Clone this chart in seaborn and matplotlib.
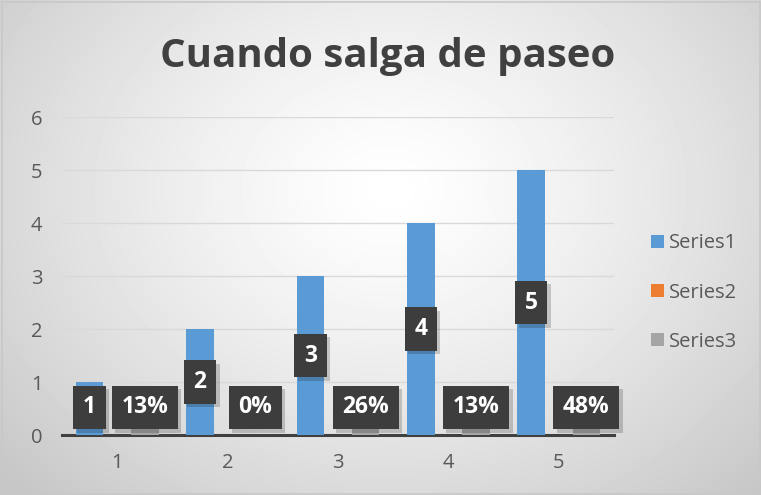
import numpy as np
import pandas as pd
import matplotlib
matplotlib.use("Agg")
import matplotlib.pyplot as plt
import matplotlib.patheffects as pe
from matplotlib.patches import Patch
import seaborn as sns

categories = ["1", "2", "3", "4", "5"]
series1 = [1, 2, 3, 4, 5]
series2 = [0, 0, 0, 0, 0]
series3 = [0.13, 0.0, 0.26, 0.13, 0.48]
series3_labels = ["13%", "0%", "26%", "13%", "48%"]
series_names = ["Series1", "Series2", "Series3"]
colors = ["#5B9BD5", "#ED7D31", "#A5A5A5"]

df = pd.DataFrame({
    "cat": categories * 3,
    "series": [n for n in series_names for _ in categories],
    "value": series1 + series2 + series3,
})

sns.set_theme(style="white")
plt.rcParams["font.family"] = ["Open Sans", "DejaVu Sans"]

fig = plt.figure(figsize=(7.61, 4.95), dpi=100)

# background radial gradient
bg = fig.add_axes([0, 0, 1, 1], zorder=-10)
yy, xx = np.mgrid[0:495, 0:761]
r = np.sqrt(((xx - 390) / 520.0) ** 2 + ((yy - 190) / 420.0) ** 2)
val = np.clip(1.0 - 0.22 * r ** 1.3, 0.78, 1.0)
bg.imshow(val, cmap="gray", vmin=0, vmax=1, aspect="auto", interpolation="bilinear")
bg.axis("off")
bg.add_patch(plt.Rectangle((1, 1), 758, 492, fill=False, ec="#c8c8c8", lw=1.2))

ax = fig.add_axes([0.0815, 0.1212, 0.7254, 0.6424])
ax.set_facecolor("none")
sns.barplot(data=df, x="cat", y="value", hue="series", palette=colors,
            width=0.75, ax=ax, legend=False, saturation=1, zorder=3,
            linewidth=0, edgecolor="none")

ax.set_xlim(-0.5, 4.5)
ax.set_ylim(0, 6)
ax.set_yticks(range(0, 7))
ax.yaxis.grid(True, color="#d9d9d9", lw=1)
ax.set_axisbelow(True)
for s in ["top", "right", "left"]:
    ax.spines[s].set_visible(False)
ax.spines["bottom"].set_color("#404040")
ax.spines["bottom"].set_linewidth(2.2)
ax.set_xlabel("")
ax.set_ylabel("")
ax.tick_params(axis="y", length=0, labelsize=14.5, labelcolor="#595959", pad=14)
ax.tick_params(axis="x", which="major", length=0, labelsize=14.5, labelcolor="#595959", pad=13)
ax.set_xticks(np.arange(-0.5, 5, 1), minor=True)
ax.tick_params(axis="x", which="minor", length=8, width=2.2, color="#404040", direction="out")

def label(x, y, s):
    t = ax.text(x, y, s, ha="center", va="center", color="white", fontsize=16.5,
                fontweight="bold", zorder=6,
                bbox=dict(boxstyle="square,pad=0.42", fc="#3d3d3d", ec="none"))
    t.get_bbox_patch().set_path_effects([
        pe.SimplePatchShadow(offset=(2.5, -2.5), shadow_rgbFace="#000000", alpha=0.18),
        pe.Normal()])

c1 = ax.containers[0]
c3 = ax.containers[2]
for bar, v in zip(c1, series1):
    label(bar.get_x() + bar.get_width() / 2, max(v / 2, 0.52), str(v))
for bar, v, s in zip(c3, series3, series3_labels):
    label(bar.get_x() + bar.get_width() / 2, max(v / 2, 0.52), s)

handles = [Patch(facecolor=c, edgecolor="none") for c in colors]
leg = ax.legend(handles, series_names, loc="center left", bbox_to_anchor=(1.035, 0.448),
                frameon=False, fontsize=14.5, handlelength=0.6, handleheight=0.6,
                handletextpad=0.25, labelspacing=1.45)
for t in leg.get_texts():
    t.set_color("#595959")

fig.text(0.51, 0.885, "Cuando salga de paseo", ha="center", va="center",
         fontsize=29, fontweight="bold", color="#404040")

fig.savefig("out.png", dpi=100)
